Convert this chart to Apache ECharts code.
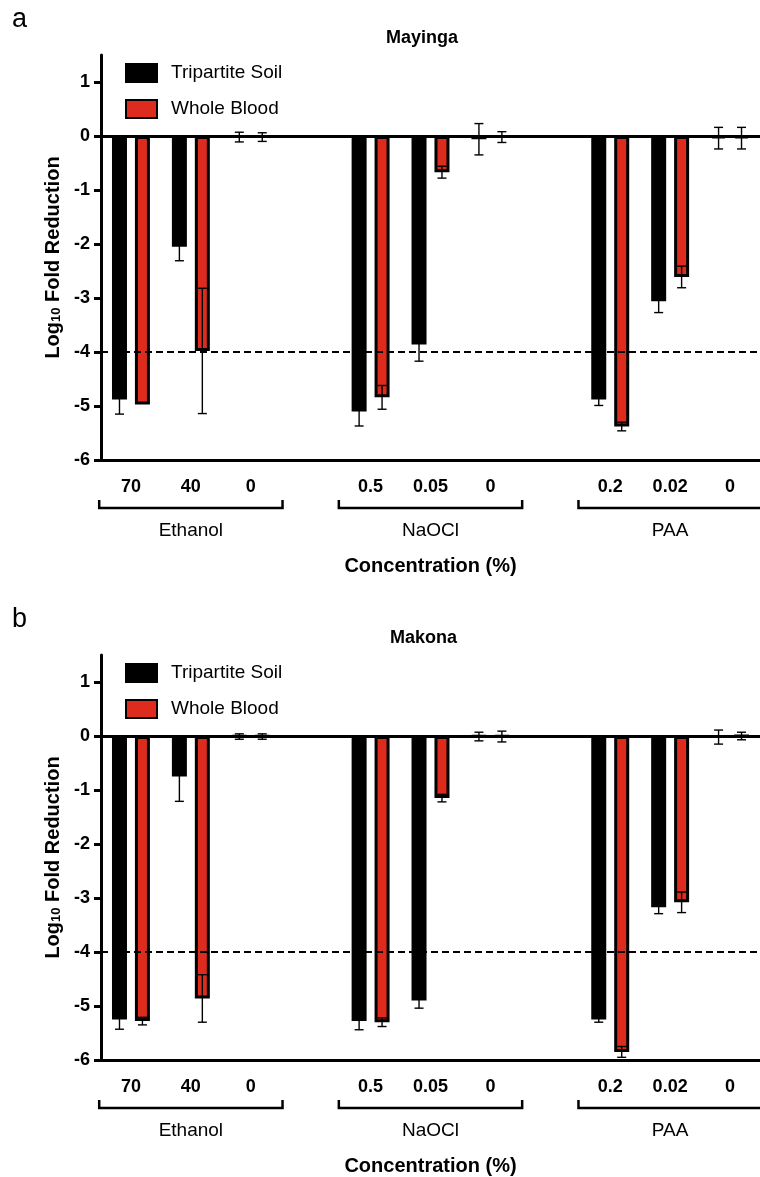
<!DOCTYPE html>
<html>
<head>
<meta charset="utf-8">
<script src="https://cdn.jsdelivr.net/npm/echarts@6/dist/echarts.min.js"></script>
<style>
  html, body { margin: 0; padding: 0; background: #fff; }
  #chart { width: 760px; height: 1177px; }
</style>
</head>
<body>
<div id="chart"></div>
<script>
// categories on the x axis ('' = gap between compound groups)
var categories = ['70', '40', '0', '', '0.5', '0.05', '0', '', '0.2', '0.02', '0'];
var groupNames = ['Ethanol', 'NaOCl', 'PAA'];
var groupSpans = [[0, 2], [4, 6], [8, 10]];
var yTicks = [-6, -5, -4, -3, -2, -1, 0, 1];
var panelTitles = ['Mayinga', 'Makona'];
var panelLetters = ['a', 'b'];
var seriesNames = ['Tripartite Soil', 'Whole Blood'];

// Mayinga
var mayingaSoil     = [-4.88, -2.05, -0.02, null, -5.10, -3.86, -0.06, null, -4.88, -3.06, -0.04];
var mayingaSoilErr  = [0.27, 0.26, 0.09, null, 0.27, 0.31, 0.29, null, 0.11, 0.21, 0.20];
var mayingaBlood    = [-4.97, -3.98, -0.02, null, -4.84, -0.67, -0.02, null, -5.38, -2.61, -0.04];
var mayingaBloodErr = [0, 1.16, 0.08, null, 0.22, 0.11, 0.10, null, 0.08, 0.20, 0.20];

// Makona
var makonaSoil     = [-5.25, -0.75, -0.01, null, -5.28, -4.90, -0.01, null, -5.25, -3.17, -0.02];
var makonaSoilErr  = [0.18, 0.46, 0.05, null, 0.16, 0.14, 0.08, null, 0.05, 0.12, 0.13];
var makonaBlood    = [-5.28, -4.86, -0.01, null, -5.30, -1.15, -0.01, null, -5.85, -3.08, 0.00];
var makonaBloodErr = [0.07, 0.44, 0.05, null, 0.08, 0.07, 0.10, null, 0.10, 0.19, 0.07];

var FONT = '"Liberation Sans", Arial, Helvetica, sans-serif';
var RED = '#DD2C1E';
var BAR_W = 15;
var BAR_GAP = 0.53;
var OFFSET = (BAR_W + BAR_W * BAR_GAP) / 2;
var PANEL_H = 600;
var GRID_TOP = 55;
var GRID_H = 405;

var panels = [
  { soil: mayingaSoil, soilErr: mayingaSoilErr, blood: mayingaBlood, bloodErr: mayingaBloodErr },
  { soil: makonaSoil, soilErr: makonaSoilErr, blood: makonaBlood, bloodErr: makonaBloodErr }
];

function errData(vals, errs) {
  var out = [];
  vals.forEach(function (v, i) {
    if (v != null && errs[i] > 0) out.push([i, v, errs[i]]);
  });
  return out;
}

function errRenderer(dx) {
  return function (params, api) {
    var i = api.value(0), m = api.value(1), e = api.value(2);
    var top = api.coord([i, m + e]);
    var bot = api.coord([i, m - e]);
    var x = top[0] + dx;
    var cap = 4.5;
    var st = { stroke: '#000', lineWidth: 1.4 };
    return {
      type: 'group',
      children: [
        { type: 'line', shape: { x1: x, y1: top[1], x2: x, y2: bot[1] }, style: st },
        { type: 'line', shape: { x1: x - cap, y1: top[1], x2: x + cap, y2: top[1] }, style: st },
        { type: 'line', shape: { x1: x - cap, y1: bot[1], x2: x + cap, y2: bot[1] }, style: st }
      ]
    };
  };
}

var titles = [], legends = [], grids = [], xAxes = [], yAxes = [], series = [];

panels.forEach(function (p, k) {
  var off = k * PANEL_H;
  titles.push({ text: panelLetters[k], left: 7, top: off + 1,
    textStyle: { fontFamily: FONT, fontSize: 27, fontWeight: 'normal', color: '#000' } });
  titles.push({ text: panelTitles[k], left: k === 0 ? 381 : 385, top: off + 24,
    textStyle: { fontFamily: FONT, fontSize: 18, fontWeight: 'bold', color: '#000' } });

  legends.push({
    data: seriesNames, orient: 'vertical', left: 120, top: off + 58,
    icon: 'rect', itemWidth: 31, itemHeight: 18, itemGap: 16,
    selectedMode: false,
    textStyle: { fontFamily: FONT, fontSize: 19, color: '#000', padding: [0, 0, 0, 9] }
  });

  grids.push({ left: 101, width: 667, top: off + GRID_TOP, height: GRID_H });

  xAxes.push({
    type: 'category', gridIndex: k, data: categories,
    name: 'Concentration (%)', nameLocation: 'middle', nameGap: 96,
    nameTextStyle: { fontFamily: FONT, fontSize: 20, fontWeight: 'bold', color: '#000' },
    axisLine: { onZero: false, lineStyle: { color: '#000', width: 3 } },
    axisTick: { alignWithLabel: true, length: 10, lineStyle: { width: 3, color: '#000' },
      interval: function (idx, val) { return val !== ''; } },
    axisLabel: { interval: 0, margin: 18, fontFamily: FONT, fontSize: 18, fontWeight: 'bold', color: '#000' },
    splitLine: { show: false }
  });

  yAxes.push({
    type: 'value', gridIndex: k, min: -6, max: 1.5,
    name: '{b|Log}{s|10}{b| Fold Reduction}', nameLocation: 'middle', nameGap: 38,
    nameTextStyle: {
      color: '#000',
      rich: {
        b: { fontFamily: FONT, fontSize: 20, fontWeight: 'bold', color: '#000' },
        s: { fontFamily: FONT, fontSize: 13, fontWeight: 'bold', color: '#000',
             verticalAlign: 'bottom', padding: [7, 0, 0, 0] }
      }
    },
    axisLine: { show: true, lineStyle: { color: '#000', width: 3 } },
    axisTick: { show: true, length: 7, lineStyle: { width: 3, color: '#000' }, customValues: yTicks },
    axisLabel: { margin: 11, fontFamily: FONT, fontSize: 18, fontWeight: 'bold', color: '#000', customValues: yTicks },
    splitLine: { show: false }
  });

  series.push({
    name: seriesNames[0], type: 'bar', xAxisIndex: k, yAxisIndex: k,
    data: p.soil, barWidth: BAR_W, barGap: (BAR_GAP * 100) + '%',
    itemStyle: { color: '#000', borderColor: '#000', borderWidth: 3 },
    markLine: {
      silent: true, symbol: 'none', label: { show: false },
      data: [
        { yAxis: 0, lineStyle: { type: 'solid', width: 3, color: '#000' } },
        { yAxis: -4, lineStyle: { type: [7, 4], width: 2, color: '#000' } }
      ]
    }
  });
  series.push({
    name: seriesNames[1], type: 'bar', xAxisIndex: k, yAxisIndex: k,
    data: p.blood, barWidth: BAR_W, barGap: (BAR_GAP * 100) + '%',
    itemStyle: { color: RED, borderColor: '#000', borderWidth: 3 }
  });
  series.push({
    name: 'soil-sd-' + k, type: 'custom', xAxisIndex: k, yAxisIndex: k, z: 5,
    data: errData(p.soil, p.soilErr), encode: { x: 0, y: 1 },
    renderItem: errRenderer(-OFFSET)
  });
  series.push({
    name: 'blood-sd-' + k, type: 'custom', xAxisIndex: k, yAxisIndex: k, z: 5,
    data: errData(p.blood, p.bloodErr), encode: { x: 0, y: 1 },
    renderItem: errRenderer(OFFSET)
  });
});

var chart = echarts.init(document.getElementById('chart'));
chart.setOption({
  animation: false,
  backgroundColor: '#fff',
  textStyle: { fontFamily: FONT, color: '#000' },
  title: titles,
  legend: legends,
  grid: grids,
  xAxis: xAxes,
  yAxis: yAxes,
  series: series
});

// group brackets under the concentration labels
var graphics = [];
panels.forEach(function (p, k) {
  var yb = chart.convertToPixel({ yAxisIndex: k }, -6);
  var band = chart.convertToPixel({ xAxisIndex: k }, 1) - chart.convertToPixel({ xAxisIndex: k }, 0);
  groupSpans.forEach(function (span, g) {
    var x0 = chart.convertToPixel({ xAxisIndex: k }, span[0]) - band * 0.53;
    var x1 = chart.convertToPixel({ xAxisIndex: k }, span[1]) + band * 0.53;
    graphics.push({
      type: 'polyline',
      shape: { points: [[x0, yb + 40], [x0, yb + 48], [x1, yb + 48], [x1, yb + 40]] },
      style: { stroke: '#000', lineWidth: 2.5, fill: null }
    });
    graphics.push({
      type: 'text', x: (x0 + x1) / 2, y: yb + 71,
      style: { text: groupNames[g], fill: '#000', fontFamily: FONT, fontSize: 19,
               align: 'center', verticalAlign: 'middle' }
    });
  });
});
chart.setOption({ graphic: graphics });
</script>
</body>
</html>
